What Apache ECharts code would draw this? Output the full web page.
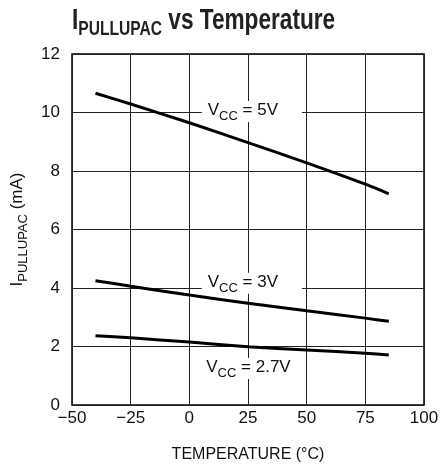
<!DOCTYPE html>
<html><head><meta charset="utf-8">
<script src="https://cdn.jsdelivr.net/npm/echarts@6/dist/echarts.min.js"></script>
<style>html,body{margin:0;padding:0;background:#fff}#c{width:440px;height:464px}</style>
</head><body><div id="c"></div>
<script>
var FONT = "'Liberation Sans', Arial, Helvetica, sans-serif";
var temps = [-40, -25, 0, 25, 50, 75, 85];
var vcc5 = [10.66, 10.29, 9.65, 8.97, 8.28, 7.55, 7.22];
var vcc3 = [4.25, 4.06, 3.76, 3.48, 3.22, 2.97, 2.86];
var vcc27 = [2.37, 2.30, 2.15, 1.99, 1.88, 1.77, 1.71];
var labels = [
  {name: '5V', at: [5.3, 10.03], pad: [1, 24, 1, 6]},
  {name: '3V', at: [5.3, 4.16], pad: [1, 24, 1, 6]},
  {name: '2.7V', at: [5.5, 1.25], pad: [1, 6, 1, 4]}
];
function pairs(vals){ return temps.map(function(t,i){return [t, vals[i]];}); }
function mk(vals, lab){
  return {
    type: 'line', data: pairs(vals), smooth: 0.2, showSymbol: false, symbol: 'none',
    lineStyle: {color: '#000', width: 3}, z: 5,
    markPoint: {
      symbol: 'circle', symbolSize: 0, silent: true,
      data: [{coord: lab.at}],
      label: {
        show: true, position: 'right', distance: 0,
        formatter: '{v|V}{s|CC}{v| = ' + lab.name + '}',
        backgroundColor: '#fff', padding: lab.pad,
        rich: {
          v: {fontFamily: FONT, fontSize: 17, color: '#111', lineHeight: 19, verticalAlign: 'top'},
          s: {fontFamily: FONT, fontSize: 13, color: '#111', lineHeight: 13, verticalAlign: 'top', padding: [8, 0, 0, 0]}
        }
      }
    }
  };
}
var chart = echarts.init(document.getElementById('c'));
chart.setOption({
  animation: false,
  graphic: [{
    type: 'text', x: 72, y: 6, scaleX: 0.78, scaleY: 1,
    style: {
      text: '{a|I}{b|PULLUPAC}{a| vs Temperature}',
      rich: {
        a: {fontFamily: FONT, fontWeight: 'bold', fontSize: 29, fill: '#222', lineHeight: 30, verticalAlign: 'top'},
        b: {fontFamily: FONT, fontWeight: 'bold', fontSize: 20, fill: '#222', lineHeight: 20, verticalAlign: 'top', padding: [13, 0, 0, 0]}
      }
    }
  }],
  grid: {left: 72, right: 16, top: 54, bottom: 59, show: true, borderColor: '#000', borderWidth: 1.5,
    containLabel: false, outerBoundsMode: 'none'},
  xAxis: {
    type: 'value', min: -50, max: 100, interval: 25,
    axisLine: {show: false}, axisTick: {show: false},
    splitLine: {show: true, lineStyle: {color: '#222', width: 1}},
    axisLabel: {fontFamily: FONT, fontSize: 17, color: '#111', margin: 5,
      formatter: function(v){ return v < 0 ? '\u2212' + Math.abs(v) : String(v); }},
    name: 'TEMPERATURE (\u00B0C)', nameLocation: 'middle', nameGap: 42,
    nameTextStyle: {fontFamily: FONT, fontSize: 16, color: '#111'}
  },
  yAxis: {
    type: 'value', min: 0, max: 12, interval: 2,
    axisLine: {show: false}, axisTick: {show: false},
    splitLine: {show: true, lineStyle: {color: '#222', width: 1}},
    axisLabel: {fontFamily: FONT, fontSize: 17, color: '#111', margin: 12},
    name: '{a|I}{b|PULLUPAC}{a| (mA)}', nameLocation: 'middle', nameGap: 42, nameRotate: 90,
    nameTextStyle: {
      rich: {
        a: {fontFamily: FONT, fontSize: 17, color: '#111', lineHeight: 18, verticalAlign: 'top'},
        b: {fontFamily: FONT, fontSize: 13, color: '#111', lineHeight: 13, verticalAlign: 'top', padding: [8, 0, 0, 0]}
      }
    }
  },
  series: [mk(vcc5, labels[0]), mk(vcc3, labels[1]), mk(vcc27, labels[2])]
});
</script></body></html>
